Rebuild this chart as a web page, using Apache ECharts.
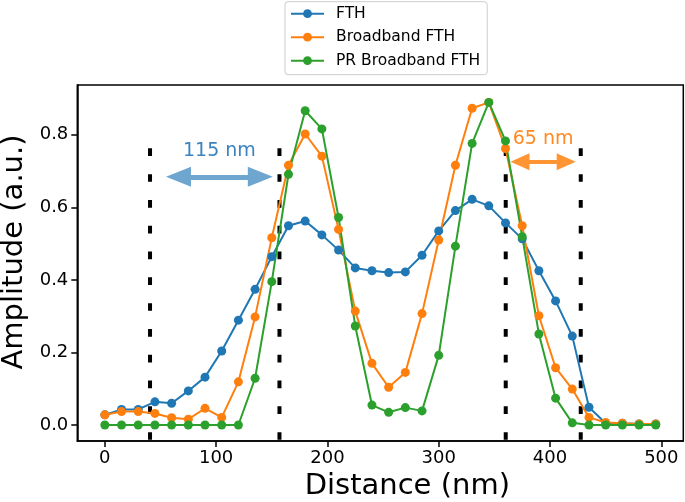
<!DOCTYPE html>
<html>
<head>
<meta charset="utf-8">
<script src="https://cdn.jsdelivr.net/npm/echarts@6/dist/echarts.min.js"></script>
<style>
  html, body { margin: 0; padding: 0; background: #fff; }
  #chart { width: 685px; height: 502px; }
</style>
</head>
<body>
<div id="chart"></div>
<script>
// distance along the profile (nm)
const distance = [0, 15, 30, 45, 60, 75, 90, 105, 120, 135, 150, 165, 180, 195, 210, 225, 240,
  255, 270, 285, 300, 315, 330, 345, 360, 375, 390, 405, 420, 435, 450, 465, 480, 495];
const fth = [0.028, 0.043, 0.043, 0.064, 0.060, 0.094, 0.132, 0.204, 0.289, 0.374, 0.464, 0.549,
  0.562, 0.524, 0.482, 0.433, 0.425, 0.420, 0.422, 0.468, 0.535, 0.591, 0.622, 0.604, 0.557,
  0.513, 0.425, 0.342, 0.245, 0.049, 0.005, 0.005, 0.003, 0.003];
const broadband = [0.028, 0.037, 0.037, 0.032, 0.020, 0.016, 0.046, 0.021, 0.119, 0.298, 0.516,
  0.716, 0.802, 0.741, 0.539, 0.314, 0.170, 0.104, 0.145, 0.307, 0.510, 0.716, 0.873, 0.889,
  0.762, 0.549, 0.301, 0.158, 0.099, 0.021, 0.007, 0.005, 0.003, 0.003];
const prBroadband = [0, 0, 0, 0, 0, 0, 0, 0, 0, 0.129, 0.395, 0.691, 0.866, 0.816, 0.572, 0.273,
  0.055, 0.035, 0.048, 0.039, 0.192, 0.493, 0.776, 0.889, 0.783, 0.519, 0.251, 0.074, 0.006,
  0, 0, 0, 0, 0];

const xTicks = [0, 100, 200, 300, 400, 500];
const yTicks = [0, 0.2, 0.4, 0.6, 0.8];

// vertical guide lines (nm) and their vertical extent
const guides = [40.6, 156.9, 360.2, 427.6];
const guideSpan = [0.7625, -0.041];
// width annotations: [from, to, height]
const arrow115 = [66.2, 139.7, 0.684];
const arrow65 = [373.0, 414.5, 0.7255];

const font = "DejaVu Sans";
const chart = echarts.init(document.getElementById("chart"));

function pairs(xs, ys) {
  return xs.map((x, i) => [x, ys[i]]);
}

const guideSeries = guides.map((g) => ({
  type: "line",
  name: "guide",
  data: [[g, guideSpan[0]], [g, guideSpan[1]]],
  symbol: "none",
  silent: true,
  lineStyle: { color: "#000", width: 4, type: [7.7, 18.1], cap: "butt" },
}));

function arrowSeries(a, color, textColor, text, head, width, dist) {
  return {
    type: "line",
    name: "arrow",
    data: [],
    silent: true,
    markLine: {
      silent: true,
      symbol: ["triangle", "triangle"],
      symbolSize: head,
      lineStyle: { color: color, width: width, type: "solid" },
      itemStyle: { color: color },
      label: {
        show: true,
        position: "middle",
        distance: dist,
        formatter: text,
        color: textColor,
        fontSize: 19,
        fontFamily: font,
      },
      emphasis: { disabled: true },
      data: [[{ coord: [a[0], a[2]] }, { coord: [a[1], a[2]] }]],
    },
  };
}

chart.setOption({
  animation: false,
  backgroundColor: "#fff",
  grid: {
    left: 77.3,
    right: 1.7,
    top: 85,
    bottom: 61,
    containLabel: false,
    outerBoundsMode: "none",
    show: true,
    borderColor: "#000",
    borderWidth: 1.5,
  },
  legend: {
    data: ["FTH", "Broadband FTH", "PR Broadband FTH"],
    orient: "vertical",
    left: 285,
    top: 1.7,
    itemWidth: 33,
    itemHeight: 11,
    itemGap: 5.5,
    padding: [3, 7, 5, 5],
    borderColor: "#cccccc",
    borderWidth: 1,
    borderRadius: 3,
    backgroundColor: "rgba(255,255,255,0.8)",
    textStyle: {
      fontFamily: font,
      fontSize: 15.5,
      lineHeight: 18,
      color: "#000",
      padding: [0, 0, 0, 7],
    },
  },
  xAxis: {
    type: "value",
    min: -24.75,
    max: 519.75,
    name: "Distance (nm)",
    nameLocation: "middle",
    nameGap: 25,
    nameTextStyle: { fontFamily: font, fontSize: 29, color: "#000", padding: [0, 0, 0, 54] },
    axisLine: { show: true, onZero: false, lineStyle: { color: "#000", width: 1.5 } },
    axisTick: { show: true, inside: false, length: 6, customValues: xTicks,
      lineStyle: { color: "#000", width: 1.5 } },
    axisLabel: { customValues: xTicks, margin: 8, fontFamily: font, fontSize: 18, color: "#000" },
    splitLine: { show: false },
  },
  yAxis: {
    type: "value",
    min: -0.044,
    max: 0.937,
    name: "Amplitude (a.u.)",
    nameLocation: "middle",
    nameGap: 47,
    nameTextStyle: { fontFamily: font, fontSize: 29, color: "#000", padding: [0, 0, 0, 22] },
    axisLine: { show: true, onZero: false, lineStyle: { color: "#000", width: 1.5 } },
    axisTick: { show: true, inside: false, length: 6, customValues: yTicks,
      lineStyle: { color: "#000", width: 1.5 } },
    axisLabel: { customValues: yTicks, margin: 9, fontFamily: font, fontSize: 18, color: "#000",
      formatter: (v) => v.toFixed(1) },
    splitLine: { show: false },
  },
  series: [
    ...guideSeries,
    {
      name: "FTH",
      type: "line",
      data: pairs(distance, fth),
      symbol: "circle",
      symbolSize: 9,
      color: "#1f77b4",
      lineStyle: { width: 2 },
    },
    {
      name: "Broadband FTH",
      type: "line",
      data: pairs(distance, broadband),
      symbol: "circle",
      symbolSize: 9,
      color: "#ff7f0e",
      lineStyle: { width: 2 },
    },
    {
      name: "PR Broadband FTH",
      type: "line",
      data: pairs(distance, prBroadband),
      symbol: "circle",
      symbolSize: 9,
      color: "#2ca02c",
      lineStyle: { width: 2 },
    },
    arrowSeries(arrow115, "#6fa6d0", "#3b84c0", "115 nm", [20, 25], 5, 16),
    arrowSeries(arrow65, "#ff9433", "#ff8a24", "65 nm", [17, 19], 4, 13.3),
  ],
});
</script>
</body>
</html>
